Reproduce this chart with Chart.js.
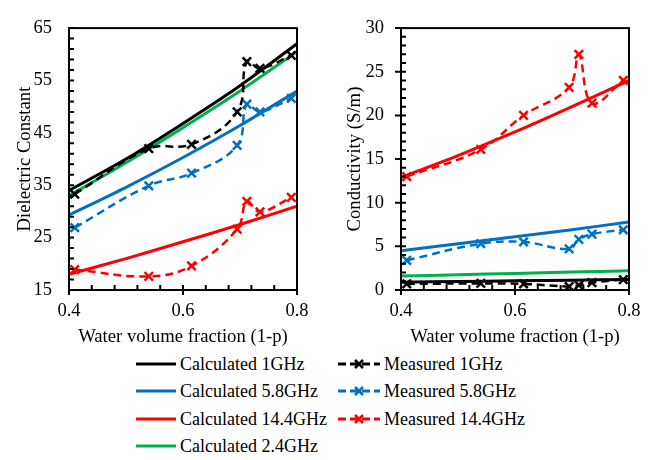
<!DOCTYPE html>
<html>
<head>
<meta charset="utf-8">
<script src="https://cdn.jsdelivr.net/npm/chart.js@4.4.1/dist/chart.umd.min.js"></script>
<style>
  body { margin: 0; background: #fff; }
  #wrap { position: relative; width: 659px; height: 460px; font-family: 'Liberation Serif', serif; }
  #left { position: absolute; left: 0; top: 0; }
  #right { position: absolute; left: 330px; top: 0; }
  .key { position: absolute; height: 24px; display: flex; align-items: center; font-size: 18px; color: #000; white-space: nowrap; }
  .key svg { margin-right: 4px; }
</style>
</head>
<body>
<div id="wrap">
  <canvas id="left" width="330" height="348"></canvas>
  <canvas id="right" width="329" height="348"></canvas>
  <div id="legend"></div>
</div>
<script>
// x positions
const xCalc = [0.4, 0.5, 0.6, 0.7, 0.8];
const xMeasured = [0.41, 0.54, 0.615, 0.695, 0.712, 0.735, 0.79];

// dielectric constant
const dielCalc1 = [34, 40, 46.8, 54, 62];
const dielCalc58 = [29.3, 34.6, 40.3, 46.4, 53];
const dielCalc144 = [18, 21, 24.2, 27.5, 31];
const dielCalc24 = [33, 39.3, 46, 53, 60.5];
const dielMeas1 = [33.3, 42, 42.8, 49, 58.6, 57.3, 59.8];
const dielMeas58 = [26.9, 34.9, 37.3, 42.6, 50.5, 49, 51.6];
const dielMeas144 = [18.9, 17.6, 19.6, 26.6, 31.9, 29.9, 32.7];

// conductivity (S/m)
const condCalc1 = [0.9, 0.98, 1.05, 1.13, 1.2];
const condCalc58 = [4.5, 5.3, 6.1, 6.9, 7.8];
const condCalc144 = [12.9, 15.4, 18.1, 21, 24];
const condCalc24 = [1.6, 1.75, 1.9, 2.05, 2.2];
const condMeas1 = [0.7, 0.75, 0.7, 0.4, 0.55, 0.85, 1.2];
const condMeas58 = [3.4, 5.3, 5.5, 4.7, 5.8, 6.4, 6.9];
const condMeas144 = [13, 16.1, 20, 23.2, 27, 21.4, 24];

const colors = {
    black: '#000000',
    blue: '#0070C0',
    red: '#FF0000',
    green: '#00B050'
};

const serif = 'Liberation Serif';
Chart.defaults.font.family = serif;
Chart.defaults.color = '#000';

function pts(xs, ys) {
    return xs.map((x, i) => ({ x: x, y: ys[i] }));
}

function calc(label, ys, color) {
    return {
        label: label,
        data: pts(xCalc, ys),
        borderColor: color,
        backgroundColor: color,
        borderWidth: 3,
        pointRadius: 0,
        tension: 0.3,
        order: 1
    };
}

function meas(label, ys, color) {
    return {
        label: label,
        data: pts(xMeasured, ys),
        borderColor: color,
        backgroundColor: color,
        borderWidth: 2.5,
        borderDash: [8, 5],
        pointStyle: 'crossRot',
        pointRadius: 6,
        pointBorderWidth: 2.5,
        tension: 0.4,
        order: 0
    };
}

// box around plot area, ticks crossing the axes, minor ticks inside
const frame = {
    id: 'frame',
    afterDraw(chart, args, opts) {
        const { ctx, chartArea: a, scales: { x, y } } = chart;
        ctx.save();
        ctx.strokeStyle = '#000';
        ctx.lineWidth = 2;
        ctx.strokeRect(a.left, a.top, a.right - a.left, a.bottom - a.top);
        ctx.beginPath();
        const nx = Math.round((x.max - x.min) / opts.xMinor);
        for (let i = 0; i <= nx; i++) {
            const v = x.min + i * opts.xMinor;
            const px = x.getPixelForValue(v);
            const major = Math.abs(v / opts.xMajor - Math.round(v / opts.xMajor)) < 1e-6;
            ctx.moveTo(px, a.bottom + (major ? 5 : 0));
            ctx.lineTo(px, a.bottom - 5);
        }
        const ny = Math.round((y.max - y.min) / opts.yMinor);
        for (let i = 0; i <= ny; i++) {
            const v = y.min + i * opts.yMinor;
            const py = y.getPixelForValue(v);
            const major = Math.abs(v / opts.yMajor - Math.round(v / opts.yMajor)) < 1e-6;
            ctx.moveTo(a.left - (major ? 6 : 0), py);
            ctx.lineTo(a.left + 5, py);
        }
        ctx.stroke();
        ctx.restore();
    }
};

function makeChart(id, datasets, yTitle, yMin, yMax, yStep, yMinor, yWidth, rightPad) {
    return new Chart(document.getElementById(id), {
        type: 'line',
        data: { datasets: datasets },
        plugins: [frame],
        options: {
            responsive: false,
            animation: false,
            layout: { padding: { top: 11, right: rightPad, left: 0, bottom: 0 } },
            plugins: {
                legend: { display: false },
                tooltip: { enabled: false },
                frame: { xMinor: 0.04, xMajor: 0.2, yMinor: yMinor, yMajor: yStep }
            },
            scales: {
                x: {
                    type: 'linear',
                    min: 0.4,
                    max: 0.8,
                    grid: { display: false, drawTicks: false },
                    border: { display: false },
                    ticks: {
                        stepSize: 0.2,
                        padding: 10,
                        font: { family: serif, size: 18.5 },
                        callback: v => v.toFixed(1)
                    },
                    title: {
                        display: true,
                        text: 'Water volume fraction (1-p)',
                        font: { family: serif, size: 18.7 },
                        padding: { top: 0, bottom: 0 }
                    },
                    afterFit: s => { s.height = 58; }
                },
                y: {
                    min: yMin,
                    max: yMax,
                    grid: { display: false, drawTicks: false },
                    border: { display: false },
                    ticks: {
                        stepSize: yStep,
                        padding: 17,
                        font: { family: serif, size: 18.5 }
                    },
                    title: {
                        display: true,
                        text: yTitle,
                        font: { family: serif, size: 18.7 },
                        padding: { top: 14, bottom: 0 }
                    },
                    afterFit: s => { s.width = yWidth; }
                }
            }
        }
    });
}

function drawAll() {
    makeChart('left', [
        calc('Calculated 1GHz', dielCalc1, colors.black),
        calc('Calculated 5.8GHz', dielCalc58, colors.blue),
        calc('Calculated 14.4GHz', dielCalc144, colors.red),
        calc('Calculated 2.4GHz', dielCalc24, colors.green),
        meas('Measured 1GHz', dielMeas1, colors.black),
        meas('Measured 5.8GHz', dielMeas58, colors.blue),
        meas('Measured 14.4GHz', dielMeas144, colors.red)
    ], 'Dielectric Constant', 15, 65, 10, 2, 69, 33);

    makeChart('right', [
        calc('Calculated 1GHz', condCalc1, colors.black),
        calc('Calculated 5.8GHz', condCalc58, colors.blue),
        calc('Calculated 14.4GHz', condCalc144, colors.red),
        calc('Calculated 2.4GHz', condCalc24, colors.green),
        meas('Measured 1GHz', condMeas1, colors.black),
        meas('Measured 5.8GHz', condMeas58, colors.blue),
        meas('Measured 14.4GHz', condMeas144, colors.red)
    ], 'Conductivity (S/m)', 0, 30, 5, 1, 71, 30);
}

// shared legend below both panels
const legendRows = [364, 391, 419, 446];
const calcKeys = [['Calculated 1GHz', colors.black], ['Calculated 5.8GHz', colors.blue],
                  ['Calculated 14.4GHz', colors.red], ['Calculated 2.4GHz', colors.green]];
const measKeys = [['Measured 1GHz', colors.black], ['Measured 5.8GHz', colors.blue],
                  ['Measured 14.4GHz', colors.red]];

const legend = document.getElementById('legend');
calcKeys.forEach(([text, c], i) => {
    const d = document.createElement('div');
    d.className = 'key';
    d.style.left = '136px';
    d.style.top = (legendRows[i] - 12) + 'px';
    d.innerHTML = '<svg width="40" height="24"><line x1="0" y1="12" x2="40" y2="12" stroke="' + c +
        '" stroke-width="3"/></svg>' + text;
    legend.appendChild(d);
});
measKeys.forEach(([text, c], i) => {
    const d = document.createElement('div');
    d.className = 'key';
    d.style.left = '338px';
    d.style.top = (legendRows[i] - 12) + 'px';
    d.innerHTML = '<svg width="42" height="24">' +
        '<line x1="0" y1="12" x2="42" y2="12" stroke="' + c + '" stroke-width="3" stroke-dasharray="8,4,0,0"/>' +
        '<path d="M17 8 L25 16 M25 8 L17 16" stroke="' + c + '" stroke-width="2.5"/></svg>' + text;
    legend.appendChild(d);
});

if (document.fonts && document.fonts.load) {
    document.fonts.load('18px "Liberation Serif"').then(drawAll, drawAll);
} else {
    drawAll();
}
</script>
</body>
</html>
